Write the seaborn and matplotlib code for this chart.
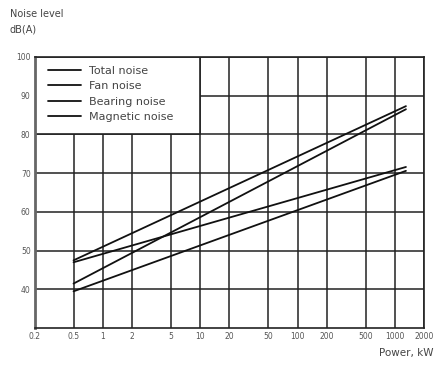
import seaborn as sns
import pandas as pd
import numpy as np
import matplotlib.pyplot as plt
from matplotlib.patches import Rectangle
from matplotlib.ticker import FixedLocator, FixedFormatter, NullLocator

# each curve is a straight line on the log axis
power = [0.5, 1300]
total_noise = [47.5, 87.3]
fan_noise = [41.5, 86.5]
bearing_noise = [47.0, 71.6]
magnetic_noise = [39.5, 70.6]
series_names = ["Total noise", "Fan noise", "Bearing noise", "Magnetic noise"]

x_ticks = [0.2, 0.5, 1, 2, 5, 10, 20, 50, 100, 200, 500, 1000, 2000]
x_ticklabels = ["0.2", "0.5", "1", "2", "5", "10", "20", "50", "100", "200", "500", "1000", "2000"]
y_ticks = [40, 50, 60, 70, 80, 90, 100]

sns.set_style("white")
plt.rcParams['font.family'] = ['DejaVu Sans']

rows = []
for name, vals in zip(series_names, [total_noise, fan_noise, bearing_noise, magnetic_noise]):
    for p, v in zip(power, vals):
        rows.append({"Power": p, "dB": v, "series": name})
df = pd.DataFrame(rows)

fig = plt.figure(figsize=(4.46, 3.65), dpi=100)
ax = fig.add_axes([0.078, 0.101, 0.873, 0.743])

sns.lineplot(data=df, x="Power", y="dB", hue="series", hue_order=series_names,
             palette=["#111111"] * 4, linewidth=1.3, ax=ax, legend=True)

ax.set_xscale("log")
ax.set_xlim(0.2, 2000)
ax.set_ylim(30, 100)
ax.xaxis.set_major_locator(FixedLocator(x_ticks))
ax.xaxis.set_major_formatter(FixedFormatter(x_ticklabels))
ax.xaxis.set_minor_locator(NullLocator())
ax.set_yticks(y_ticks)
ax.set_yticklabels([str(v) for v in y_ticks])
ax.tick_params(axis="both", length=0, labelsize=5.5, labelcolor="#555555", pad=3)

ax.grid(True, which="major", color="#222222", linewidth=1.1)
ax.set_axisbelow(True)
for side in ["top", "right", "bottom"]:
    ax.spines[side].set_color("#222222")
    ax.spines[side].set_linewidth(1.2)
ax.spines["left"].set_color("#666666")
ax.spines["left"].set_linewidth(2)

ax.set_xlabel("")
ax.set_ylabel("")
fig.text(0.022, 0.975, "Noise level\ndB(A)", fontsize=7, color="#444444",
         va="top", ha="left", linespacing=1.7)
fig.text(0.972, 0.033, "Power, kW", fontsize=7.5, color="#444444", ha="right", va="center")

# legend box fills the grid cell 0.2-10 kW, 80-100 dB
ax.add_patch(Rectangle((x_ticks[0], 80), x_ticks[5] - x_ticks[0], 20,
                       facecolor="white", edgecolor="#222222", linewidth=1.2, zorder=2.5))
leg = ax.legend(loc="upper left", bbox_to_anchor=(0.033, 0.968), borderaxespad=0,
                fontsize=8, frameon=False, handlelength=3.0, handletextpad=0.7,
                labelspacing=0.5, borderpad=0)
for t in leg.get_texts():
    t.set_color("#444444")
for h in leg.get_lines():
    h.set_linewidth(1.3)

fig.savefig("out.png", dpi=100)
